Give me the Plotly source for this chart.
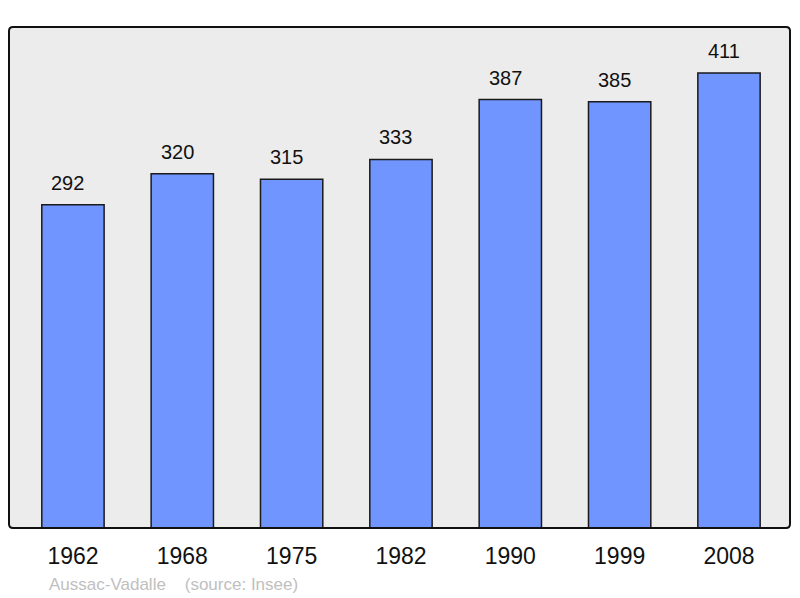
import plotly.graph_objects as go

years = ["1962", "1968", "1975", "1982", "1990", "1999", "2008"]
population = [292, 320, 315, 333, 387, 385, 411]
positions = list(range(len(years)))

# page body has an 8px margin; compensate so the plot frame lands at 9..790 x 27..528
W, H = 792, 590
L, R, T, B = 1, 10, 19, 70
PW, PH = W - L - R, H - T - B

fig = go.Figure()
fig.add_trace(go.Bar(
    x=positions, y=population, width=0.57,
    marker=dict(color="#7095ff", line=dict(color="#1a1a1a", width=1.5)),
    hoverinfo="skip",
))

for xp, v in zip(positions, population):
    fig.add_annotation(x=xp, y=v, text=str(v), showarrow=False,
                       yanchor="bottom", yshift=9, xshift=-5,
                       font=dict(family="Liberation Sans, Arial", size=20, color="#111111"))

fig.add_annotation(xref="paper", yref="paper", x=(47 - 9) / PW, y=-(584 - 528) / PH,
                   xanchor="left", yanchor="middle", showarrow=False,
                   text="Aussac-Vadalle&nbsp;&nbsp;&nbsp;&nbsp;(source: Insee)",
                   font=dict(family="Liberation Sans, Arial", size=17, color="#c0c0c0"))

rx, ry = 4 / PW, 4 / PH
path = (f"M {rx},0 L {1-rx},0 Q 1,0 1,{ry} L 1,{1-ry} Q 1,1 {1-rx},1 "
        f"L {rx},1 Q 0,1 0,{1-ry} L 0,{ry} Q 0,0 {rx},0 Z")
fig.add_shape(type="path", xref="paper", yref="paper", path=path,
              line=dict(color="#111111", width=2), layer="above")

fig.update_layout(
    width=W, height=H,
    margin=dict(l=L, r=R, t=T, b=B),
    paper_bgcolor="white", plot_bgcolor="#ececec",
    showlegend=False,
    xaxis=dict(range=[-0.585, 6.558], tickvals=positions, ticktext=years,
               showgrid=False, zeroline=False, ticks="", ticklabelstandoff=12,
               tickfont=dict(family="Liberation Sans, Arial", size=23, color="#111111")),
    yaxis=dict(range=[0, 452.6], showgrid=False, zeroline=False, showticklabels=False, ticks=""),
)

fig.write_html("out.html")
